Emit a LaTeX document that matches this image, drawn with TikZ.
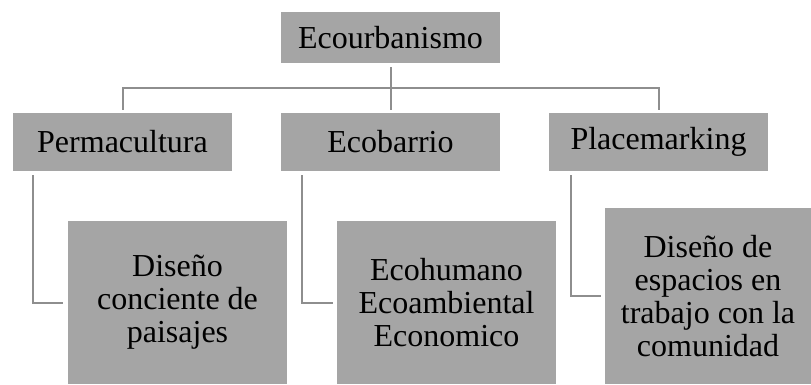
\documentclass[tikz,border=0pt]{standalone}
\usepackage{fontspec}
\setmainfont{Liberation Serif}
\definecolor{boxgray}{HTML}{A5A5A5}
\definecolor{linegray}{HTML}{8E8E8E}
\begin{document}
\begin{tikzpicture}[x=1bp,y=-1bp,
  box/.style={fill=boxgray, draw=none, inner sep=0pt, align=center,
    font=\fontsize{32bp}{33bp}\selectfont},
  conn/.style={draw=linegray, line width=2bp}]
\useasboundingbox (0,0) rectangle (811,384);
\node[box, minimum width=219bp, minimum height=51bp] (top) at (390.5,37.5) {Ecourbanismo};
\node[box, minimum width=219bp, minimum height=58bp] (perm) at (122.5,142) {Permacultura};
\node[box, minimum width=219bp, minimum height=58bp] (eco) at (390.5,142) {Ecobarrio};
\node[box, minimum width=219bp, minimum height=58bp] (place) at (658.5,142) {Placemarking};
\node[box, minimum width=219bp, minimum height=163bp] (c1) at (177.5,302.5) {Diseño\\conciente de\\paisajes};
\node[box, minimum width=219bp, minimum height=163bp] (c2) at (446.5,302.5) {Ecohumano\\Ecoambiental\\Economico};
\node[box, minimum width=206bp, minimum height=176bp] (c3) at (708,296) {Diseño de\\espacios en\\trabajo con la\\comunidad};
\coordinate (hub) at (390.5,88);
\draw[conn] ([yshift=-4bp]top.south) -- (hub);
\draw[conn] ([yshift=3bp]perm.north) |- (hub) -| ([yshift=3bp]place.north);
\draw[conn] (hub) -- ([yshift=3bp]eco.north);
\draw[conn] ([xshift=20bp,yshift=-4bp]perm.south west) |- ([xshift=-5bp]c1.west);
\draw[conn] ([xshift=21bp,yshift=-4bp]eco.south west) |- ([xshift=-4bp]c2.west);
\draw[conn] ([xshift=22bp,yshift=-4bp]place.south west) |- ([xshift=-4bp]c3.west);
\end{tikzpicture}
\end{document}
